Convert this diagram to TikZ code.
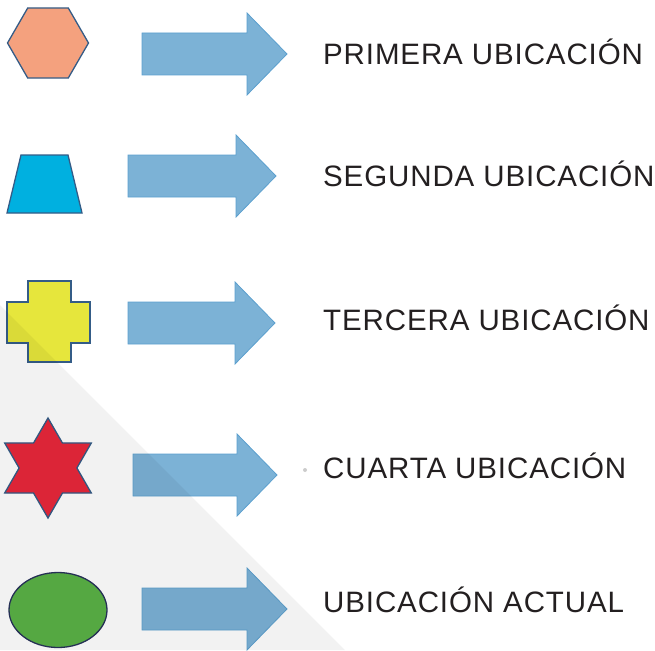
\documentclass[tikz,border=0pt]{standalone}
\usepackage{fontspec}
\setmainfont{Liberation Sans}
\usetikzlibrary{shapes.geometric}

\definecolor{salmon}{RGB}{244,161,126}
\definecolor{celeste}{RGB}{0,176,224}
\definecolor{amarillo}{RGB}{230,230,60}
\definecolor{rojo}{RGB}{232,40,58}
\definecolor{verde}{RGB}{90,178,70}
\definecolor{borde}{RGB}{52,92,135}
\definecolor{flecha}{RGB}{124,178,214}
\definecolor{flechaborde}{RGB}{92,160,206}
\definecolor{texto}{RGB}{35,31,32}

\tikzset{
	figura/.style={draw=borde, line width=1.3pt, inner sep=0pt, outer sep=0pt},
	bluearrow/.style={fill=flecha, draw=flechaborde, line width=0.8pt, line join=miter},
	etiqueta/.style={anchor=base west, inner sep=0pt, text=texto,
		font=\fontsize{29.5}{35}\selectfont\addfontfeatures{LetterSpace=3}}
}

\begin{document}
\begin{tikzpicture}[x=1pt, y=-1pt]
	\useasboundingbox (0,0) rectangle (655,650);

	% figuras
	\node[figura, fill=salmon, regular polygon, regular polygon sides=6, minimum size=81pt] (hexa) at (48,43) {};
	\draw[figura, fill=celeste] (7,213) -- (21,155) -- (68,155) -- (82,213) -- cycle;
	\draw[figura, fill=amarillo] (28,281) -- (71,281) -- (71,302) -- (90,302) -- (90,343) -- (71,343)
		-- (71,362) -- (28,362) -- (28,343) -- (7,343) -- (7,302) -- (28,302) -- cycle;
	\node[figura, fill=rojo, star, star points=6, star point ratio=1.73, minimum size=100pt] (estrella) at (48,468) {};
	\node[figura, fill=verde, draw={rgb,255:red,40;green,50;blue,90}, ellipse, minimum width=98pt, minimum height=75pt] (elipse) at (58,610) {};

	% flechas
	\foreach \ax/\ay/\al in {142/54/145, 128/176/148, 128/323/147, 133/475/144, 142/609/145}
		\draw[bluearrow] (\ax,\ay-21) -- ++(\al-40,0) -- ++(0,-20) -- ++(40,41) -- ++(-40,41)
			-- ++(0,-20) -- ++(-\al+40,0) -- cycle;

	% textos
	\node[etiqueta] (lbl1) at (323,65) {PRIMERA UBICACIÓN};
	\node[etiqueta] (lbl2) at (323,186) {SEGUNDA UBICACIÓN};
	\node[etiqueta] (lbl3) at (323,330) {TERCERA UBICACIÓN};
	\node[etiqueta] (lbl4) at (323,478) {CUARTA UBICACIÓN};
	\node[etiqueta] (lbl5) at (323,612) {UBICACIÓN ACTUAL};
	\fill[black!20] (305,470) circle (2);

	% fondo gris
	\fill[black, fill opacity=0.05] (0,305) -- (345,650) -- (0,650) -- cycle;
\end{tikzpicture}
\end{document}
